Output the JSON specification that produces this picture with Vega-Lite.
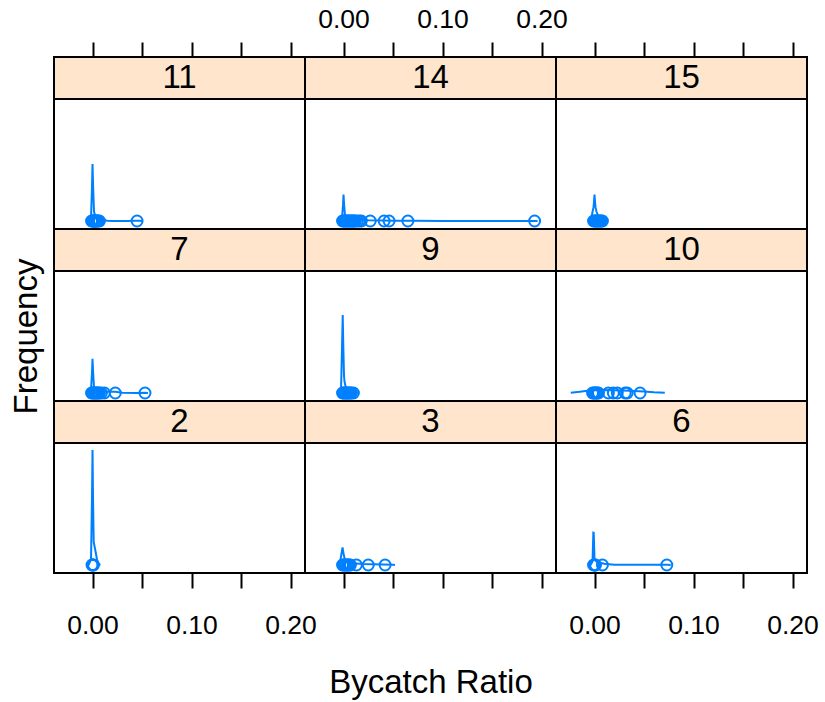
{
  "$schema": "https://vega.github.io/schema/vega-lite/v6.json",
  "padding": {"left": 8, "top": 5, "right": 5, "bottom": 5},
  "background": "#ffffff",
  "config": {
    "view": {"stroke": "#000000", "strokeWidth": 2},
    "font": "Liberation Sans",
    "axis": {"labelFont": "Liberation Sans", "titleFont": "Liberation Sans", "labelColor": "#000", "titleColor": "#000", "titleFontWeight": "normal", "labelFlush": false, "labelOverlap": false, "labelBound": false}
  },
  "datasets": {
    "curve": [
      {"p": "11", "x": -0.004, "y": 0}, {"p": "11", "x": -0.0015, "y": 3}, {"p": "11", "x": -0.0005, "y": 30}, {"p": "11", "x": 0, "y": 49.6}, {"p": "11", "x": 0.0006, "y": 30}, {"p": "11", "x": 0.0015, "y": 8}, {"p": "11", "x": 0.003, "y": 4}, {"p": "11", "x": 0.006, "y": 2}, {"p": "11", "x": 0.01, "y": 1}, {"p": "11", "x": 0.015, "y": 0.3}, {"p": "11", "x": 0.02, "y": 0.1}, {"p": "11", "x": 0.035, "y": 0}, {"p": "11", "x": 0.044, "y": 0.3}, {"p": "11", "x": 0.047, "y": 0.3}, {"p": "11", "x": 0.05, "y": 0},
      {"p": "14", "x": -0.004, "y": 0}, {"p": "14", "x": -0.0015, "y": 3}, {"p": "14", "x": -0.0005, "y": 14}, {"p": "14", "x": 0, "y": 22.9}, {"p": "14", "x": 0.0006, "y": 14}, {"p": "14", "x": 0.0015, "y": 5}, {"p": "14", "x": 0.004, "y": 3}, {"p": "14", "x": 0.01, "y": 2}, {"p": "14", "x": 0.018, "y": 1.5}, {"p": "14", "x": 0.025, "y": 0.6}, {"p": "14", "x": 0.04, "y": 0.5}, {"p": "14", "x": 0.05, "y": 0.3}, {"p": "14", "x": 0.07, "y": 0.2}, {"p": "14", "x": 0.1, "y": 0}, {"p": "14", "x": 0.196, "y": 0},
      {"p": "15", "x": -0.004, "y": 0}, {"p": "15", "x": -0.003, "y": 3}, {"p": "15", "x": -0.002, "y": 8}, {"p": "15", "x": -0.001, "y": 12}, {"p": "15", "x": -0.0004, "y": 18}, {"p": "15", "x": 0, "y": 22.9}, {"p": "15", "x": 0.0004, "y": 18}, {"p": "15", "x": 0.001, "y": 12}, {"p": "15", "x": 0.002, "y": 8}, {"p": "15", "x": 0.004, "y": 4}, {"p": "15", "x": 0.007, "y": 2}, {"p": "15", "x": 0.01, "y": 0.5}, {"p": "15", "x": 0.013, "y": 0},
      {"p": "7", "x": -0.004, "y": 0}, {"p": "7", "x": -0.0015, "y": 3}, {"p": "7", "x": -0.0005, "y": 18}, {"p": "7", "x": 0, "y": 29.8}, {"p": "7", "x": 0.0006, "y": 18}, {"p": "7", "x": 0.0015, "y": 5}, {"p": "7", "x": 0.004, "y": 3}, {"p": "7", "x": 0.01, "y": 2}, {"p": "7", "x": 0.015, "y": 1}, {"p": "7", "x": 0.023, "y": 1}, {"p": "7", "x": 0.03, "y": 0.3}, {"p": "7", "x": 0.045, "y": 0.1}, {"p": "7", "x": 0.053, "y": 0.2}, {"p": "7", "x": 0.056, "y": 0},
      {"p": "9", "x": -0.005, "y": 0}, {"p": "9", "x": -0.0025, "y": 3}, {"p": "9", "x": -0.0015, "y": 40}, {"p": "9", "x": -0.0008, "y": 67.8}, {"p": "9", "x": -0.0002, "y": 40}, {"p": "9", "x": 0.0005, "y": 15}, {"p": "9", "x": 0.001, "y": 10}, {"p": "9", "x": 0.002, "y": 6}, {"p": "9", "x": 0.004, "y": 3}, {"p": "9", "x": 0.008, "y": 1.5}, {"p": "9", "x": 0.012, "y": 0.5}, {"p": "9", "x": 0.015, "y": 0},
      {"p": "10", "x": -0.024, "y": 0.3}, {"p": "10", "x": -0.015, "y": 1.0}, {"p": "10", "x": -0.005, "y": 2.2}, {"p": "10", "x": 0.005, "y": 2.7}, {"p": "10", "x": 0.02, "y": 2.4}, {"p": "10", "x": 0.035, "y": 2.0}, {"p": "10", "x": 0.05, "y": 1.2}, {"p": "10", "x": 0.06, "y": 0.6}, {"p": "10", "x": 0.071, "y": 0.2},
      {"p": "2", "x": -0.004, "y": 0}, {"p": "2", "x": -0.0015, "y": 5}, {"p": "2", "x": -0.0005, "y": 60}, {"p": "2", "x": 0, "y": 100}, {"p": "2", "x": 0.0005, "y": 60}, {"p": "2", "x": 0.0012, "y": 20}, {"p": "2", "x": 0.003, "y": 12}, {"p": "2", "x": 0.0045, "y": 5}, {"p": "2", "x": 0.006, "y": 1}, {"p": "2", "x": 0.008, "y": 0},
      {"p": "3", "x": -0.005, "y": 0}, {"p": "3", "x": -0.003, "y": 5}, {"p": "3", "x": -0.002, "y": 10}, {"p": "3", "x": -0.001, "y": 15.4}, {"p": "3", "x": 0, "y": 10}, {"p": "3", "x": 0.001, "y": 6}, {"p": "3", "x": 0.003, "y": 3}, {"p": "3", "x": 0.007, "y": 2}, {"p": "3", "x": 0.012, "y": 1.2}, {"p": "3", "x": 0.02, "y": 0.8}, {"p": "3", "x": 0.03, "y": 0.6}, {"p": "3", "x": 0.04, "y": 0.5}, {"p": "3", "x": 0.05, "y": 0.2}, {"p": "3", "x": 0.052, "y": 0},
      {"p": "6", "x": -0.004, "y": 0}, {"p": "6", "x": -0.002, "y": 3}, {"p": "6", "x": -0.0012, "y": 28.1}, {"p": "6", "x": -0.0008, "y": 28}, {"p": "6", "x": 0, "y": 5}, {"p": "6", "x": 0.002, "y": 3}, {"p": "6", "x": 0.005, "y": 2}, {"p": "6", "x": 0.01, "y": 1}, {"p": "6", "x": 0.02, "y": 0.3}, {"p": "6", "x": 0.05, "y": 0.2}, {"p": "6", "x": 0.074, "y": 0.2}, {"p": "6", "x": 0.077, "y": 0}
    ],
    "pts": [
      {"p": "11", "x": -0.001}, {"p": "11", "x": 0}, {"p": "11", "x": 0.0005}, {"p": "11", "x": 0.001}, {"p": "11", "x": 0.0015}, {"p": "11", "x": 0.002}, {"p": "11", "x": 0.0025}, {"p": "11", "x": 0.003}, {"p": "11", "x": 0.0035}, {"p": "11", "x": 0.004}, {"p": "11", "x": 0.005}, {"p": "11", "x": 0.006}, {"p": "11", "x": 0.007}, {"p": "11", "x": 0.045},
      {"p": "14", "x": -0.001}, {"p": "14", "x": 0}, {"p": "14", "x": 0.001}, {"p": "14", "x": 0.002}, {"p": "14", "x": 0.003}, {"p": "14", "x": 0.004}, {"p": "14", "x": 0.005}, {"p": "14", "x": 0.006}, {"p": "14", "x": 0.007}, {"p": "14", "x": 0.008}, {"p": "14", "x": 0.009}, {"p": "14", "x": 0.01}, {"p": "14", "x": 0.011}, {"p": "14", "x": 0.012}, {"p": "14", "x": 0.014}, {"p": "14", "x": 0.016}, {"p": "14", "x": 0.018}, {"p": "14", "x": 0.027}, {"p": "14", "x": 0.041}, {"p": "14", "x": 0.046}, {"p": "14", "x": 0.065}, {"p": "14", "x": 0.193},
      {"p": "15", "x": -0.001}, {"p": "15", "x": 0}, {"p": "15", "x": 0.001}, {"p": "15", "x": 0.002}, {"p": "15", "x": 0.003}, {"p": "15", "x": 0.004}, {"p": "15", "x": 0.005}, {"p": "15", "x": 0.006}, {"p": "15", "x": 0.007}, {"p": "15", "x": 0.008},
      {"p": "7", "x": -0.001}, {"p": "7", "x": 0}, {"p": "7", "x": 0.001}, {"p": "7", "x": 0.002}, {"p": "7", "x": 0.003}, {"p": "7", "x": 0.004}, {"p": "7", "x": 0.005}, {"p": "7", "x": 0.006}, {"p": "7", "x": 0.007}, {"p": "7", "x": 0.009}, {"p": "7", "x": 0.012}, {"p": "7", "x": 0.023}, {"p": "7", "x": 0.053},
      {"p": "9", "x": -0.001}, {"p": "9", "x": 0}, {"p": "9", "x": 0.001}, {"p": "9", "x": 0.002}, {"p": "9", "x": 0.003}, {"p": "9", "x": 0.004}, {"p": "9", "x": 0.005}, {"p": "9", "x": 0.006}, {"p": "9", "x": 0.007}, {"p": "9", "x": 0.008}, {"p": "9", "x": 0.01},
      {"p": "10", "x": -0.002}, {"p": "10", "x": -0.001}, {"p": "10", "x": 0}, {"p": "10", "x": 0.001}, {"p": "10", "x": 0.002}, {"p": "10", "x": 0.003}, {"p": "10", "x": 0.004}, {"p": "10", "x": 0.014}, {"p": "10", "x": 0.019}, {"p": "10", "x": 0.023}, {"p": "10", "x": 0.031}, {"p": "10", "x": 0.033}, {"p": "10", "x": 0.046},
      {"p": "2", "x": -0.0005}, {"p": "2", "x": 0}, {"p": "2", "x": 0.0005}, {"p": "2", "x": 0.001},
      {"p": "3", "x": -0.001}, {"p": "3", "x": 0}, {"p": "3", "x": 0.001}, {"p": "3", "x": 0.002}, {"p": "3", "x": 0.003}, {"p": "3", "x": 0.004}, {"p": "3", "x": 0.005}, {"p": "3", "x": 0.006}, {"p": "3", "x": 0.007}, {"p": "3", "x": 0.013}, {"p": "3", "x": 0.025}, {"p": "3", "x": 0.042},
      {"p": "6", "x": -0.001}, {"p": "6", "x": 0}, {"p": "6", "x": 0.0005}, {"p": "6", "x": 0.001}, {"p": "6", "x": 0.008}, {"p": "6", "x": 0.073}
    ]
  },
  "columns": 3,
  "spacing": 0,
  "bounds": "flush",
  "align": "each",
  "concat": [
    {"width": 251, "height": 42, "data": {"values": [{"p": "11"}]}, "encoding": {"x": {"field": "p", "type": "nominal", "scale": {"paddingInner": 0, "paddingOuter": 0}, "axis": null}},
     "layer": [{"mark": {"type": "rect", "fill": "#ffe5cc", "stroke": "#000", "strokeWidth": 2}}, {"mark": {"type": "text", "fontSize": 33, "font": "Liberation Sans", "color": "#000", "baseline": "middle"}, "encoding": {"text": {"field": "p"}}}]},
    {"width": 251, "height": 42, "data": {"values": [{"p": "14"}]}, "encoding": {"x": {"field": "p", "type": "nominal", "scale": {"paddingInner": 0, "paddingOuter": 0}, "axis": null}},
     "layer": [{"mark": {"type": "rect", "fill": "#ffe5cc", "stroke": "#000", "strokeWidth": 2}}, {"mark": {"type": "text", "fontSize": 33, "font": "Liberation Sans", "color": "#000", "baseline": "middle"}, "encoding": {"text": {"field": "p"}}}]},
    {"width": 251, "height": 42, "data": {"values": [{"p": "15"}]}, "encoding": {"x": {"field": "p", "type": "nominal", "scale": {"paddingInner": 0, "paddingOuter": 0}, "axis": null}},
     "layer": [{"mark": {"type": "rect", "fill": "#ffe5cc", "stroke": "#000", "strokeWidth": 2}}, {"mark": {"type": "text", "fontSize": 33, "font": "Liberation Sans", "color": "#000", "baseline": "middle"}, "encoding": {"text": {"field": "p"}}}]},
    {"width": 251, "height": 130,
     "encoding": {"x": {"field": "x", "type": "quantitative", "scale": {"domain": [-0.0389, 0.2146], "nice": false, "zero": false}, "axis": {"orient": "top", "offset": 42, "values": [0, 0.05, 0.1, 0.15, 0.2], "tickSize": 15, "tickWidth": 2, "tickColor": "#000", "domain": false, "grid": false, "labels": false, "title": null}}},
     "layer": [
       {"data": {"name": "curve"}, "transform": [{"filter": "datum.p == '11'"}], "mark": {"type": "line", "color": "#0080ff", "strokeWidth": 2}, "encoding": {"y": {"field": "y", "type": "quantitative", "scale": {"domain": [-6.96, 106.1], "nice": false, "zero": false}, "axis": null}}},
       {"data": {"name": "pts"}, "transform": [{"filter": "datum.p == '11'"}], "mark": {"type": "point", "shape": "circle", "filled": false, "color": "#0080ff", "strokeWidth": 2, "size": 120, "opacity": 1}, "encoding": {"y": {"datum": 0, "type": "quantitative", "axis": null}}}
     ]},
    {"width": 251, "height": 130,
     "encoding": {"x": {"field": "x", "type": "quantitative", "scale": {"domain": [-0.0389, 0.2146], "nice": false, "zero": false}, "axis": {"orient": "top", "offset": 42, "values": [0, 0.05, 0.1, 0.15, 0.2], "tickSize": 15, "tickWidth": 2, "tickColor": "#000", "domain": false, "grid": false, "labelFontSize": 26.5, "labelPadding": 9, "labelExpr": "round(datum.value*100) % 10 == 0 ? format(datum.value, '.2f') : ''", "title": null}}},
     "layer": [
       {"data": {"name": "curve"}, "transform": [{"filter": "datum.p == '14'"}], "mark": {"type": "line", "color": "#0080ff", "strokeWidth": 2}, "encoding": {"y": {"field": "y", "type": "quantitative", "scale": {"domain": [-6.96, 106.1], "nice": false, "zero": false}, "axis": null}}},
       {"data": {"name": "pts"}, "transform": [{"filter": "datum.p == '14'"}], "mark": {"type": "point", "shape": "circle", "filled": false, "color": "#0080ff", "strokeWidth": 2, "size": 120, "opacity": 1}, "encoding": {"y": {"datum": 0, "type": "quantitative", "axis": null}}}
     ]},
    {"width": 251, "height": 130,
     "encoding": {"x": {"field": "x", "type": "quantitative", "scale": {"domain": [-0.0389, 0.2146], "nice": false, "zero": false}, "axis": {"orient": "top", "offset": 42, "values": [0, 0.05, 0.1, 0.15, 0.2], "tickSize": 15, "tickWidth": 2, "tickColor": "#000", "domain": false, "grid": false, "labels": false, "title": null}}},
     "layer": [
       {"data": {"name": "curve"}, "transform": [{"filter": "datum.p == '15'"}], "mark": {"type": "line", "color": "#0080ff", "strokeWidth": 2}, "encoding": {"y": {"field": "y", "type": "quantitative", "scale": {"domain": [-6.96, 106.1], "nice": false, "zero": false}, "axis": null}}},
       {"data": {"name": "pts"}, "transform": [{"filter": "datum.p == '15'"}], "mark": {"type": "point", "shape": "circle", "filled": false, "color": "#0080ff", "strokeWidth": 2, "size": 120, "opacity": 1}, "encoding": {"y": {"datum": 0, "type": "quantitative", "axis": null}}}
     ]},
    {"width": 251, "height": 42, "data": {"values": [{"p": "7"}]}, "encoding": {"x": {"field": "p", "type": "nominal", "scale": {"paddingInner": 0, "paddingOuter": 0}, "axis": null}},
     "layer": [{"mark": {"type": "rect", "fill": "#ffe5cc", "stroke": "#000", "strokeWidth": 2}}, {"mark": {"type": "text", "fontSize": 33, "font": "Liberation Sans", "color": "#000", "baseline": "middle"}, "encoding": {"text": {"field": "p"}}}]},
    {"width": 251, "height": 42, "data": {"values": [{"p": "9"}]}, "encoding": {"x": {"field": "p", "type": "nominal", "scale": {"paddingInner": 0, "paddingOuter": 0}, "axis": null}},
     "layer": [{"mark": {"type": "rect", "fill": "#ffe5cc", "stroke": "#000", "strokeWidth": 2}}, {"mark": {"type": "text", "fontSize": 33, "font": "Liberation Sans", "color": "#000", "baseline": "middle"}, "encoding": {"text": {"field": "p"}}}]},
    {"width": 251, "height": 42, "data": {"values": [{"p": "10"}]}, "encoding": {"x": {"field": "p", "type": "nominal", "scale": {"paddingInner": 0, "paddingOuter": 0}, "axis": null}},
     "layer": [{"mark": {"type": "rect", "fill": "#ffe5cc", "stroke": "#000", "strokeWidth": 2}}, {"mark": {"type": "text", "fontSize": 33, "font": "Liberation Sans", "color": "#000", "baseline": "middle"}, "encoding": {"text": {"field": "p"}}}]},
    {"width": 251, "height": 130,
     "encoding": {"x": {"field": "x", "type": "quantitative", "scale": {"domain": [-0.0389, 0.2146], "nice": false, "zero": false}, "axis": null}},
     "layer": [
       {"data": {"name": "curve"}, "transform": [{"filter": "datum.p == '7'"}], "mark": {"type": "line", "color": "#0080ff", "strokeWidth": 2}, "encoding": {"y": {"field": "y", "type": "quantitative", "scale": {"domain": [-6.96, 106.1], "nice": false, "zero": false}, "axis": {"title": "Frequency", "titleFontSize": 33, "titleX": -28, "titleBaseline": "middle", "labels": false, "ticks": false, "domain": false, "grid": false}}}},
       {"data": {"name": "pts"}, "transform": [{"filter": "datum.p == '7'"}], "mark": {"type": "point", "shape": "circle", "filled": false, "color": "#0080ff", "strokeWidth": 2, "size": 120, "opacity": 1}, "encoding": {"y": {"datum": 0, "type": "quantitative", "axis": {"title": "Frequency", "titleFontSize": 33, "titleX": -28, "titleBaseline": "middle", "labels": false, "ticks": false, "domain": false, "grid": false}}}}
     ]},
    {"width": 251, "height": 130,
     "encoding": {"x": {"field": "x", "type": "quantitative", "scale": {"domain": [-0.0389, 0.2146], "nice": false, "zero": false}, "axis": null}},
     "layer": [
       {"data": {"name": "curve"}, "transform": [{"filter": "datum.p == '9'"}], "mark": {"type": "line", "color": "#0080ff", "strokeWidth": 2}, "encoding": {"y": {"field": "y", "type": "quantitative", "scale": {"domain": [-6.96, 106.1], "nice": false, "zero": false}, "axis": null}}},
       {"data": {"name": "pts"}, "transform": [{"filter": "datum.p == '9'"}], "mark": {"type": "point", "shape": "circle", "filled": false, "color": "#0080ff", "strokeWidth": 2, "size": 120, "opacity": 1}, "encoding": {"y": {"datum": 0, "type": "quantitative", "axis": null}}}
     ]},
    {"width": 251, "height": 130,
     "encoding": {"x": {"field": "x", "type": "quantitative", "scale": {"domain": [-0.0389, 0.2146], "nice": false, "zero": false}, "axis": null}},
     "layer": [
       {"data": {"name": "curve"}, "transform": [{"filter": "datum.p == '10'"}], "mark": {"type": "line", "color": "#0080ff", "strokeWidth": 2}, "encoding": {"y": {"field": "y", "type": "quantitative", "scale": {"domain": [-6.96, 106.1], "nice": false, "zero": false}, "axis": null}}},
       {"data": {"name": "pts"}, "transform": [{"filter": "datum.p == '10'"}], "mark": {"type": "point", "shape": "circle", "filled": false, "color": "#0080ff", "strokeWidth": 2, "size": 120, "opacity": 1}, "encoding": {"y": {"datum": 0, "type": "quantitative", "axis": null}}}
     ]},
    {"width": 251, "height": 42, "data": {"values": [{"p": "2"}]}, "encoding": {"x": {"field": "p", "type": "nominal", "scale": {"paddingInner": 0, "paddingOuter": 0}, "axis": null}},
     "layer": [{"mark": {"type": "rect", "fill": "#ffe5cc", "stroke": "#000", "strokeWidth": 2}}, {"mark": {"type": "text", "fontSize": 33, "font": "Liberation Sans", "color": "#000", "baseline": "middle"}, "encoding": {"text": {"field": "p"}}}]},
    {"width": 251, "height": 42, "data": {"values": [{"p": "3"}]}, "encoding": {"x": {"field": "p", "type": "nominal", "scale": {"paddingInner": 0, "paddingOuter": 0}, "axis": null}},
     "layer": [{"mark": {"type": "rect", "fill": "#ffe5cc", "stroke": "#000", "strokeWidth": 2}}, {"mark": {"type": "text", "fontSize": 33, "font": "Liberation Sans", "color": "#000", "baseline": "middle"}, "encoding": {"text": {"field": "p"}}}]},
    {"width": 251, "height": 42, "data": {"values": [{"p": "6"}]}, "encoding": {"x": {"field": "p", "type": "nominal", "scale": {"paddingInner": 0, "paddingOuter": 0}, "axis": null}},
     "layer": [{"mark": {"type": "rect", "fill": "#ffe5cc", "stroke": "#000", "strokeWidth": 2}}, {"mark": {"type": "text", "fontSize": 33, "font": "Liberation Sans", "color": "#000", "baseline": "middle"}, "encoding": {"text": {"field": "p"}}}]},
    {"width": 251, "height": 130,
     "encoding": {"x": {"field": "x", "type": "quantitative", "scale": {"domain": [-0.0389, 0.2146], "nice": false, "zero": false}, "axis": {"orient": "bottom", "values": [0, 0.05, 0.1, 0.15, 0.2], "tickSize": 15, "tickWidth": 2, "tickColor": "#000", "domain": false, "grid": false, "labelFontSize": 26.5, "labelPadding": 24, "labelExpr": "round(datum.value*100) % 10 == 0 ? format(datum.value, '.2f') : ''", "title": null}}},
     "layer": [
       {"data": {"name": "curve"}, "transform": [{"filter": "datum.p == '2'"}], "mark": {"type": "line", "color": "#0080ff", "strokeWidth": 2}, "encoding": {"y": {"field": "y", "type": "quantitative", "scale": {"domain": [-6.96, 106.1], "nice": false, "zero": false}, "axis": null}}},
       {"data": {"name": "pts"}, "transform": [{"filter": "datum.p == '2'"}], "mark": {"type": "point", "shape": "circle", "filled": false, "color": "#0080ff", "strokeWidth": 2, "size": 120, "opacity": 1}, "encoding": {"y": {"datum": 0, "type": "quantitative", "axis": null}}}
     ]},
    {"width": 251, "height": 130,
     "encoding": {"x": {"field": "x", "type": "quantitative", "scale": {"domain": [-0.0389, 0.2146], "nice": false, "zero": false}, "axis": {"orient": "bottom", "values": [0, 0.05, 0.1, 0.15, 0.2], "tickSize": 15, "tickWidth": 2, "tickColor": "#000", "domain": false, "grid": false, "labels": false, "title": "Bycatch Ratio", "titleFontSize": 33, "titleY": 119, "titleBaseline": "alphabetic"}}},
     "layer": [
       {"data": {"name": "curve"}, "transform": [{"filter": "datum.p == '3'"}], "mark": {"type": "line", "color": "#0080ff", "strokeWidth": 2}, "encoding": {"y": {"field": "y", "type": "quantitative", "scale": {"domain": [-6.96, 106.1], "nice": false, "zero": false}, "axis": null}}},
       {"data": {"name": "pts"}, "transform": [{"filter": "datum.p == '3'"}], "mark": {"type": "point", "shape": "circle", "filled": false, "color": "#0080ff", "strokeWidth": 2, "size": 120, "opacity": 1}, "encoding": {"y": {"datum": 0, "type": "quantitative", "axis": null}}}
     ]},
    {"width": 251, "height": 130,
     "encoding": {"x": {"field": "x", "type": "quantitative", "scale": {"domain": [-0.0389, 0.2146], "nice": false, "zero": false}, "axis": {"orient": "bottom", "values": [0, 0.05, 0.1, 0.15, 0.2], "tickSize": 15, "tickWidth": 2, "tickColor": "#000", "domain": false, "grid": false, "labelFontSize": 26.5, "labelPadding": 24, "labelExpr": "round(datum.value*100) % 10 == 0 ? format(datum.value, '.2f') : ''", "title": null}}},
     "layer": [
       {"data": {"name": "curve"}, "transform": [{"filter": "datum.p == '6'"}], "mark": {"type": "line", "color": "#0080ff", "strokeWidth": 2}, "encoding": {"y": {"field": "y", "type": "quantitative", "scale": {"domain": [-6.96, 106.1], "nice": false, "zero": false}, "axis": null}}},
       {"data": {"name": "pts"}, "transform": [{"filter": "datum.p == '6'"}], "mark": {"type": "point", "shape": "circle", "filled": false, "color": "#0080ff", "strokeWidth": 2, "size": 120, "opacity": 1}, "encoding": {"y": {"datum": 0, "type": "quantitative", "axis": null}}}
     ]}
  ]
}
